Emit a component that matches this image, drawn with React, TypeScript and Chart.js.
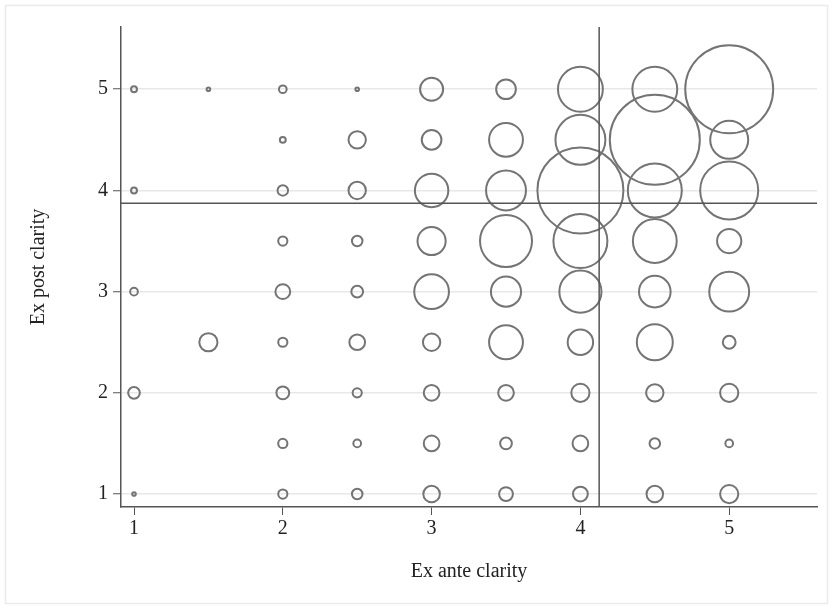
import React, { useEffect, useRef } from "react";
import { Chart, registerables } from "chart.js";

Chart.register(...registerables);

// Ex ante clarity categories (x) and ex post clarity levels (y)
const xCategories = [1, 1.5, 2, 2.5, 3, 3.5, 4, 4.5, 5];
const yLevels = [5, 4.5, 4, 3.5, 3, 2.5, 2, 1.5, 1];

// Frequency (bubble weight) per y level, one entry per x category
const countsY5 = [2, 1, 3, 1, 20, 15, 70, 70, 258];
const countsY45 = [0, 0, 2, 12, 15, 41, 86, 270, 51];
const countsY4 = [2, 0, 5, 12, 40, 56, 247, 100, 115];
const countsY35 = [0, 0, 4, 5, 29, 93, 100, 67, 22];
const countsY3 = [3, 0, 9, 6, 43, 33, 62, 36, 56];
const countsY25 = [0, 13, 4, 10, 12, 41, 24, 46, 7];
const countsY2 = [6, 0, 7, 4, 10, 10, 13, 12, 13];
const countsY15 = [0, 0, 4, 3, 10, 6, 10, 5, 3];
const countsY1 = [1, 0, 4, 5, 11, 8, 9, 11, 13];

const xTicks = [1, 2, 3, 4, 5];
const yTicks = [1, 2, 3, 4, 5];

// Mean lines
const meanExAnte = 4.126;
const meanExPost = 3.874;

const xTitle = "Ex ante clarity";
const yTitle = "Ex post clarity";

const X_MIN = 0.9126;
const X_MAX = 5.59;
const Y_MIN = 0.872;
const Y_MAX = 5.615;

const BUBBLE_K = 2.8;
const BUBBLE_BORDER = 2;
const FONT_FAMILY = "'Liberation Serif', 'Times New Roman', serif";
const TEXT_COLOR = "#222222";
const AXIS_COLOR = "#555555";

const framePlugin = {
  id: "frame",
  beforeDraw(chart: any) {
    const ctx = chart.ctx;
    ctx.save();
    ctx.fillStyle = "#ffffff";
    ctx.fillRect(0, 0, chart.width, chart.height);
    ctx.strokeStyle = "#ebebeb";
    ctx.lineWidth = 1.5;
    ctx.strokeRect(5.5, 5.5, chart.width - 11, chart.height - 11);
    ctx.restore();
  },
};

export default function App() {
  const canvasRef = useRef<HTMLCanvasElement | null>(null);

  useEffect(() => {
    document.body.style.margin = "0";
    const canvas = canvasRef.current;
    if (!canvas) return;

    const countRows = [countsY5, countsY45, countsY4, countsY35, countsY3, countsY25, countsY2, countsY15, countsY1];
    const points: { x: number; y: number; r: number }[] = [];
    yLevels.forEach((y, i) => {
      countRows[i].forEach((n, j) => {
        if (n > 0) {
          points.push({ x: xCategories[j], y, r: BUBBLE_K * Math.sqrt(n) - BUBBLE_BORDER / 2 });
        }
      });
    });

    const font = { family: FONT_FAMILY, size: 20, lineHeight: 1.2 };

    const chart = new Chart(canvas, {
      type: "bubble",
      data: {
        datasets: [
          {
            type: "line",
            data: [
              { x: X_MIN, y: meanExPost },
              { x: X_MAX, y: meanExPost },
            ],
            borderColor: AXIS_COLOR,
            borderWidth: 1.5,
            pointRadius: 0,
            fill: false,
          } as any,
          {
            type: "line",
            data: [
              { x: meanExAnte, y: Y_MIN },
              { x: meanExAnte, y: Y_MAX },
            ],
            borderColor: AXIS_COLOR,
            borderWidth: 1.5,
            pointRadius: 0,
            fill: false,
          } as any,
          {
            type: "bubble",
            data: points,
            backgroundColor: "rgba(0,0,0,0)",
            borderColor: "#747474",
            borderWidth: BUBBLE_BORDER,
          },
        ],
      },
      options: {
        animation: false,
        responsive: false,
        events: [],
        layout: { autoPadding: false, padding: { left: 0, top: 27, right: 16, bottom: 0 } },
        plugins: {
          legend: { display: false },
          tooltip: { enabled: false },
        },
        scales: {
          x: {
            type: "linear",
            min: X_MIN,
            max: X_MAX,
            afterBuildTicks: (s: any) => {
              s.ticks = xTicks.map((v) => ({ value: v }));
            },
            afterFit: (s: any) => {
              s.height = 102;
            },
            grid: {
              drawOnChartArea: false,
              drawTicks: true,
              tickLength: 8,
              tickColor: AXIS_COLOR,
              tickWidth: 1,
            },
            border: { color: AXIS_COLOR, width: 1.5 },
            ticks: {
              font,
              color: TEXT_COLOR,
              padding: 2,
              maxRotation: 0,
              callback: (v: any) => String(v),
            },
            title: {
              display: true,
              text: xTitle,
              font,
              color: TEXT_COLOR,
              padding: { top: 0, bottom: 25 },
            },
          },
          y: {
            type: "linear",
            min: Y_MIN,
            max: Y_MAX,
            afterBuildTicks: (s: any) => {
              s.ticks = yTicks.map((v) => ({ value: v }));
            },
            afterFit: (s: any) => {
              s.width = 121;
            },
            grid: {
              drawOnChartArea: true,
              color: "#e8e8e8",
              lineWidth: 1.5,
              drawTicks: true,
              tickLength: 8,
              tickColor: AXIS_COLOR,
              tickWidth: 1,
            },
            border: { color: AXIS_COLOR, width: 1.5 },
            ticks: {
              font,
              color: TEXT_COLOR,
              padding: 5,
              callback: (v: any) => String(v),
            },
            title: {
              display: true,
              text: yTitle,
              font,
              color: TEXT_COLOR,
              padding: { top: 27, bottom: 0 },
            },
          },
        },
      },
      plugins: [framePlugin],
    } as any);

    return () => chart.destroy();
  }, []);

  return (
    <div style={{ width: 833, height: 609 }}>
      <canvas ref={canvasRef} width={833} height={609} style={{ display: "block" }} />
    </div>
  );
}
